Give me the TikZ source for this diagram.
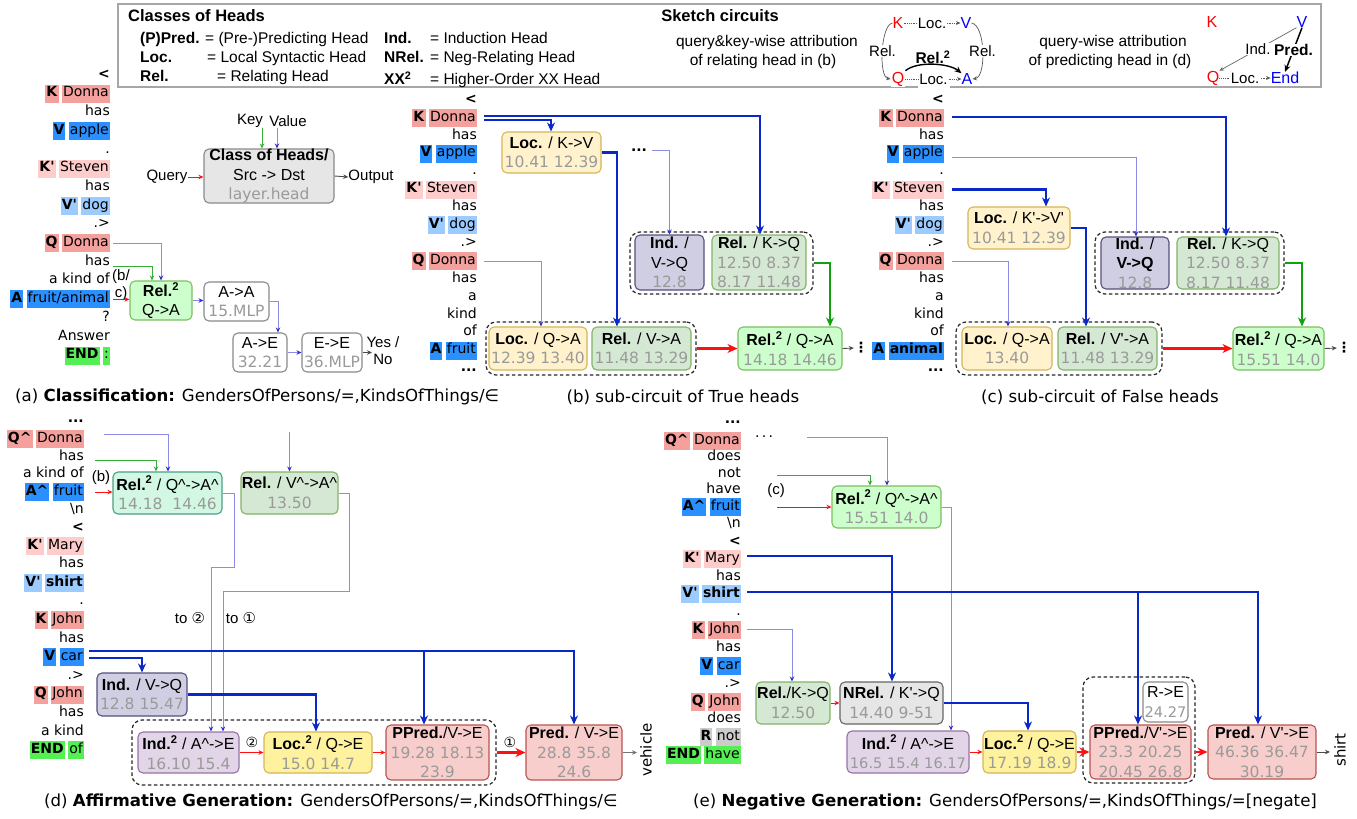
\documentclass[tikz,border=0pt]{standalone}
\usepackage{fontspec}
\setmainfont{Liberation Sans}
\newfontfamily\dejavu{DejaVu Sans}
\usetikzlibrary{arrows.meta}
\definecolor{kred}{HTML}{F4A09C}
\definecolor{kpink}{HTML}{FFCCCC}
\definecolor{vblue}{HTML}{2B90FF}
\definecolor{vlight}{HTML}{9CCBFF}
\definecolor{endg}{HTML}{55EE55}
\definecolor{rgray}{HTML}{CCCCCC}
\definecolor{numgray}{HTML}{9A9A9A}
\definecolor{locF}{HTML}{FFF2CC}\definecolor{locD}{HTML}{D6B656}
\definecolor{relF}{HTML}{D5E8D4}\definecolor{relD}{HTML}{82B366}
\definecolor{indF}{HTML}{D0CEE2}\definecolor{indD}{HTML}{56517E}
\definecolor{r2F}{HTML}{CCFFCC}\definecolor{r2D}{HTML}{7CC060}
\definecolor{mintF}{HTML}{D2F7E2}\definecolor{mintD}{HTML}{4D9E86}
\definecolor{i2F}{HTML}{E1D5E7}\definecolor{i2D}{HTML}{9673A6}
\definecolor{l2F}{HTML}{FFF29E}\definecolor{l2D}{HTML}{D6B656}
\definecolor{prF}{HTML}{F8CECC}\definecolor{prD}{HTML}{B85450}
\definecolor{gyF}{HTML}{E6E6E6}\definecolor{gyD}{HTML}{666666}
\definecolor{clsD}{HTML}{8A8A8A}
\definecolor{tblue}{HTML}{0A28C8}
\definecolor{lblue}{HTML}{8C8CE8}
\definecolor{ablue}{HTML}{3030D0}
\definecolor{tgreen}{HTML}{10A010}
\definecolor{tred}{HTML}{FF1010}
\newcommand{\tokfont}{\dejavu\fontsize{14}{16}\selectfont}
\newcommand{\boxfont}{\fontsize{16}{19.5}\selectfont}
\newcommand{\labfont}{\fontsize{15}{17}\selectfont}
\newcommand{\legfont}{\fontsize{15.5}{18}\selectfont}
\newcommand{\capf}{\dejavu\fontsize{16.6}{19}\selectfont}
\newcommand{\ap}{\textquotesingle}
\newcommand{\hc}{\textasciicircum}
\newcommand{\hl}[2]{{\setlength{\fboxsep}{1pt}\colorbox{#1}{\strut#2}}}
\newcommand{\tk}[3]{\hl{#1}{\textbf{#2}}\hspace{3.5pt}\hl{#1}{#3}}
\newcommand{\ptk}[1]{\strut#1}
\newcommand{\nm}[1]{{\dejavu\fontsize{15.5}{19.5}\selectfont\color{numgray}#1}}
\newcommand{\nms}[1]{{\dejavu\fontsize{14.6}{19.5}\selectfont\color{numgray}#1}}
\newcommand{\sq}{\textsuperscript{2}}
\tikzset{
 tok/.style={anchor=east,inner sep=0pt,font=\tokfont},
 hb/.style={draw,rounded corners=5pt,line width=1.1pt,align=center,inner sep=0pt,font=\boxfont},
 grp/.style={draw=black!85,dash pattern=on 3.5pt off 2.5pt,rounded corners=10pt,line width=1.2pt,inner sep=0pt},
 thickb/.style={draw=tblue,line width=2.2pt,-{Stealth[length=9pt,width=8pt]}},
 thinb/.style={draw=lblue,line width=1pt,-{Stealth[length=5pt,width=4.5pt,color=ablue]}},
 thickg/.style={draw=tgreen,line width=2.2pt,-{Stealth[length=9pt,width=8pt]}},
 thing/.style={draw=tgreen!85,line width=0.9pt,-{Stealth[length=5pt,width=4.5pt]}},
 thickr/.style={draw=tred,line width=2.4pt,-{Stealth[length=10pt,width=9pt]}},
 thinr/.style={draw=tred,line width=0.9pt,-{Stealth[length=5pt,width=4.5pt]}},
 thinblk/.style={draw=black!70,line width=0.9pt,-{Stealth[length=5pt,width=4.5pt]}},
 lab/.style={inner sep=0pt,font=\labfont,align=center},
 leg/.style={inner sep=0pt,font=\legfont,anchor=base west},
 capt/.style={inner sep=0pt,font=\capf},
 skd/.style={draw=black!65,densely dotted,line width=0.8pt,-{Stealth[length=4.5pt,width=4pt]}},
 skl/.style={fill=white,inner sep=0.6pt,font=\labfont},
}
\begin{document}
\begin{tikzpicture}[x=1pt,y=-1pt]
\useasboundingbox (0,0) rectangle (1357,819);
\fill[white] (0,0) rectangle (1357,819);
% ---------------- legend ----------------
\draw[draw=black!35,line width=1.2pt] (918,87) -- (118,87) -- (118,4) -- (1321,4) -- (1321,87) -- (950,87);
\node[leg,font=\fontsize{16.5}{19}\selectfont\bfseries] (lgT) at (128,21) {Classes of Heads};
\node[leg] (lg1a) at (140,43.5) {\textbf{(P)Pred.}};
\node[leg] (lg1b) at (205,43.5) {= (Pre-)Predicting Head};
\node[leg] (lg1c) at (384,43.5) {\textbf{Ind.}};
\node[leg] (lg1d) at (430,43.5) {= Induction Head};
\node[leg] (lg2a) at (140,62.5) {\textbf{Loc.}};
\node[leg] (lg2b) at (207,62.5) {= Local Syntactic Head};
\node[leg] (lg2c) at (384,62.5) {\textbf{NRel.}};
\node[leg] (lg2d) at (430,62.5) {= Neg-Relating Head};
\node[leg] (lg3a) at (140,81.5) {\textbf{Rel.}};
\node[leg] (lg3b) at (217,81.5) {= Relating Head};
\node[leg] (lg3c) at (384,84.5) {\textbf{XX\textsuperscript{2}}};
\node[leg] (lg3d) at (430,84.5) {= Higher-Order XX Head};
\node[leg,font=\fontsize{16.5}{19}\selectfont\bfseries,anchor=base] (skT) at (720,21) {Sketch circuits};
\node[leg,anchor=base] (sk1a) at (767,46) {query\&key-wise attribution};
\node[leg,anchor=base] (sk1b) at (763,65) {of relating head in (b)};
\node[leg,anchor=base] (sk2a) at (1113,46) {query-wise attribution};
\node[leg,anchor=base] (sk2b) at (1110,65) {of predicting head in (d)};
% sketch 1
\node[lab,text=red,font=\fontsize{16}{18}\selectfont] (sK) at (898,23) {K};
\node[lab,text=blue,font=\fontsize{16}{18}\selectfont] (sV) at (966,23) {V};
\node[lab,text=red,font=\fontsize{16}{18}\selectfont,fill=white,inner sep=1pt] (sQ) at (898,79) {Q};
\node[lab,text=blue,font=\fontsize{16}{18}\selectfont] (sA) at (967,79) {A};
\draw[skd] (sK.east) -- node[skl]{Loc.} (sV.west);
\draw[skd] (sQ.east) -- node[skl,inner ysep=2pt]{Loc.} (sA.west);
\draw[draw=black!65,line width=0.7pt,-{Stealth[length=4.5pt,width=4pt]}] (sK.west) .. controls +(-12,2) and +(-12,-2) .. node[skl]{Rel.} (sQ.west);
\draw[draw=black!65,line width=0.7pt,-{Stealth[length=4.5pt,width=4pt]}] (sV.east) .. controls +(14,2) and +(14,-2) .. node[skl]{Rel.} (sA.east);
\draw[line width=1.4pt,-{Stealth[length=7pt,width=6pt]}] (sQ.north east) .. controls +(12,-10) and +(-12,-10) .. (sA.north west);
\node[lab,font=\fontsize{15.5}{18}\selectfont\bfseries] (sR2) at (933,57) {Rel.\sq};
% sketch 2
\node[lab,text=red,font=\fontsize{16}{18}\selectfont] (tK) at (1212,22) {K};
\node[lab,text=blue,font=\fontsize{16}{18}\selectfont] (tV) at (1302,22) {V};
\node[lab,text=red,font=\fontsize{16}{18}\selectfont] (tQ) at (1213,78) {Q};
\node[lab,text=blue,font=\fontsize{16}{18}\selectfont] (tE) at (1285,78) {End};
\draw[skd] (tQ.east) -- node[skl]{Loc.} (tE.west);
\draw[draw=black!60,line width=0.7pt,-{Stealth[length=4.5pt,width=4pt]}] (tV.south west) -- node[skl]{Ind.} (tQ.north east);
\draw[line width=1.5pt,-{Stealth[length=7pt,width=6pt]}] (tV.south) -- node[skl,font=\fontsize{15.5}{18}\selectfont\bfseries]{Pred.} (tE.north);
% ---------------- panel (a) ----------------
\node[tok] (a0) at (110,75) {\ptk{\textbf{<}}};
\node[tok] (a1) at (110,93.7) {\tk{kred}{K}{Donna}};
\node[tok] (a2) at (110,112.4) {\ptk{has}};
\node[tok] (a3) at (110,131.1) {\tk{vblue}{V}{apple}};
\node[tok] (a4) at (110,149.8) {\ptk{.}};
\node[tok] (a5) at (110,168.5) {\tk{kpink}{K\ap}{Steven}};
\node[tok] (a6) at (110,187.2) {\ptk{has}};
\node[tok] (a7) at (110,205.9) {\tk{vlight}{V\ap}{dog}};
\node[tok] (a8) at (110,224.6) {\ptk{.>}};
\node[tok] (a9) at (110,243.3) {\tk{kred}{Q}{Donna}};
\node[tok] (a10) at (110,262) {\ptk{has}};
\node[tok] (a11) at (110,280.7) {\ptk{a kind of}};
\node[tok] (a12) at (110,299.4) {\tk{vblue}{A}{fruit/animal}};
\node[tok] (a13) at (110,318.1) {\ptk{?}};
\node[tok] (a14) at (110,336.8) {\ptk{Answer}};
\node[tok] (a15) at (110,355.5) {\tk{endg}{END}{:}};
\node[hb,fill=gyF,draw=clsD,minimum width=130pt,minimum height=54pt] (cls) at (269,176) {\textbf{Class of Heads/}\\Src -> Dst\\\nm{layer.head}};
\node[lab] (key) at (250,121) {Key};
\node[lab] (value) at (288,121) {Value};
\node[lab] (query) at (167,177) {Query};
\node[lab] (output) at (371,177) {Output};
\node[hb,fill=r2F,draw=r2D,minimum width=62pt,minimum height=39pt] (relA) at (161,300.5) {\textbf{Rel.\sq}\\Q->A};
\node[hb,fill=white,draw=clsD,minimum width=65pt,minimum height=39pt] (aa) at (236.5,301.5) {A->A\\\nm{15.MLP}};
\node[hb,fill=white,draw=clsD,minimum width=54pt,minimum height=39pt] (ae) at (260,352.5) {A->E\\\nm{32.21}};
\node[hb,fill=white,draw=clsD,minimum width=60pt,minimum height=39pt] (ee) at (332,352.5) {E->E\\\nm{36.MLP}};
\node[lab] (bc) at (121,285.5) {(b/\\c)};
\node[lab] (yesno) at (383,350.5) {Yes /\\No};
\coordinate (yn) at (372,352.5);
\draw[thinr] (query.east) -- (cls.west |- query.east);
\draw[thinblk] (cls.east) -- (output.west);
\draw[thing] (262,0 |- key.south) -- (262,0 |- cls.north);
\draw[thinb] (277,0 |- key.south) -- (277,0 |- cls.north);
\draw[thinb] ([xshift=3pt]a9.east) -| (161,0 |- relA.north);
\draw[thing] ([xshift=3pt,yshift=-4pt]a10.east) -| (152,0 |- relA.north);
\draw[thinr] ([xshift=3pt]a12.east) -- (relA.west |- a12.east);
\draw[thinb] (relA.east) -- (aa.west |- relA.east);
\draw[thinb] (aa.east) -| (278,0 |- ae.north);
\draw[thinb] (ae.east) -- (ee.west |- ae.east);
\draw[thinblk] (ee.east) -- (yn);
\node[capt,anchor=west] (capa) at (15,397) {(a) \textbf{Classification:} GendersOfPersons/=,KindsOfThings/∈};
% ---------------- panel (b) ----------------
\node[tok] (b0) at (477,100) {\ptk{\textbf{<}}};
\node[tok] (b1) at (477,117.9) {\tk{kred}{K}{Donna}};
\node[tok] (b2) at (477,135.8) {\ptk{has}};
\node[tok] (b3) at (477,153.7) {\tk{vblue}{V}{apple}};
\node[tok] (b4) at (477,171.6) {\ptk{.}};
\node[tok] (b5) at (477,189.5) {\tk{kpink}{K\ap}{Steven}};
\node[tok] (b6) at (477,207.4) {\ptk{has}};
\node[tok] (b7) at (477,225.3) {\tk{vlight}{V\ap}{dog}};
\node[tok] (b8) at (477,243.2) {\ptk{.>}};
\node[tok] (b9) at (477,261.1) {\tk{kred}{Q}{Donna}};
\node[tok] (b10) at (477,279) {\ptk{has}};
\node[tok] (b11) at (477,296.9) {\ptk{a}};
\node[tok] (b12) at (477,314.8) {\ptk{kind}};
\node[tok] (b13) at (477,332.7) {\ptk{of}};
\node[tok] (b14) at (477,350.6) {\tk{vblue}{A}{fruit}};
\node[tok] (b15) at (477,368.5) {\ptk{\textbf{...}}};
\node[grp,minimum width=183pt,minimum height=62pt] (bG1) at (721.5,263) {};
\node[grp,minimum width=210pt,minimum height=53pt] (bG2) at (591,348.5) {};
\node[hb,fill=locF,draw=locD,minimum width=99pt,minimum height=41pt] (bLocKV) at (551.5,152.5) {\textbf{Loc.} / K->V\\\nm{10.41 12.39}};
\node[hb,fill=indF,draw=indD,minimum width=69pt,minimum height=55pt] (bInd) at (669.5,262.5) {\textbf{Ind.} /\\V->Q\\\nm{12.8}};
\node[hb,fill=relF,draw=relD,minimum width=94pt,minimum height=55pt] (bRelKQ) at (759,262.5) {\textbf{Rel.} / K->Q\\\nm{12.50 8.37}\\\nm{8.17 11.48}};
\node[hb,fill=locF,draw=locD,minimum width=98pt,minimum height=43pt] (bLocQA) at (538,348.5) {\textbf{Loc.} / Q->A\\\nm{12.39 13.40}};
\node[hb,fill=relF,draw=relD,minimum width=99pt,minimum height=43pt] (bRelVA) at (641.5,348.5) {\textbf{Rel.} / V->A\\\nm{11.48 13.29}};
\node[hb,fill=r2F,draw=r2D,minimum width=104pt,minimum height=43pt] (bRel2) at (790,348.5) {\textbf{Rel.\sq} / Q->A\\\nm{14.18 14.46}};
\node[inner sep=0pt,font=\tokfont\bfseries] (bDots) at (639,150) {...};
\node[inner sep=0pt,font=\tokfont\bfseries] (bEnd) at (861,348) {⋮};
\draw[thickb] ([xshift=7pt,yshift=2pt]b1.east) -| (760,0 |- bRelKQ.north);
\draw[thickb] ([xshift=7pt,yshift=-2pt]b1.east) -| (551,0 |- bLocKV.north);
\draw[thickb] (bLocKV.east) -| (617,0 |- bRelVA.north);
\draw[thinb] ([xshift=5pt]bDots.east) -| (bInd.north);
\draw[thinb] ([xshift=7pt]b9.east) -| (541,0 |- bLocQA.north);
\draw[thickr] (bG2.east) -- (bRel2.west);
\draw[thickg] (bG1.east) -| (830,0 |- bRel2.north);
\draw[thinblk] (bRel2.east) -- (bEnd.west);
\node[capt] (capb) at (683,397) {(b) sub-circuit of True heads};
% ---------------- panel (c) ----------------
\node[tok] (c0) at (944,100) {\ptk{\textbf{<}}};
\node[tok] (c1) at (944,117.9) {\tk{kred}{K}{Donna}};
\node[tok] (c2) at (944,135.8) {\ptk{has}};
\node[tok] (c3) at (944,153.7) {\tk{vblue}{V}{apple}};
\node[tok] (c4) at (944,171.6) {\ptk{.}};
\node[tok] (c5) at (944,189.5) {\tk{kpink}{K\ap}{Steven}};
\node[tok] (c6) at (944,207.4) {\ptk{has}};
\node[tok] (c7) at (944,225.3) {\tk{vlight}{V\ap}{dog}};
\node[tok] (c8) at (944,243.2) {\ptk{.>}};
\node[tok] (c9) at (944,261.1) {\tk{kred}{Q}{Donna}};
\node[tok] (c10) at (944,279) {\ptk{has}};
\node[tok] (c11) at (944,296.9) {\ptk{a}};
\node[tok] (c12) at (944,314.8) {\ptk{kind}};
\node[tok] (c13) at (944,332.7) {\ptk{of}};
\node[tok] (c14) at (944,350.6) {\tk{vblue}{A}{\textbf{animal}}};
\node[tok] (c15) at (944,368.5) {\ptk{\textbf{...}}};
\node[grp,minimum width=189pt,minimum height=62pt] (cG1) at (1189.5,263) {};
\node[grp,minimum width=206pt,minimum height=53pt] (cG2) at (1059,348.5) {};
\node[hb,fill=locF,draw=locD,minimum width=102pt,minimum height=42pt] (cLoc) at (1019,228) {\textbf{Loc.} / K\ap->V\ap\\\nm{10.41 12.39}};
\node[hb,fill=indF,draw=indD,minimum width=68pt,minimum height=52pt] (cInd) at (1135,263) {\textbf{Ind.} /\\\textbf{V->Q}\\\nm{12.8}};
\node[hb,fill=relF,draw=relD,minimum width=102pt,minimum height=52pt] (cRelKQ) at (1228,263) {\textbf{Rel.} / K->Q\\\nm{12.50 8.37}\\\nm{8.17 11.48}};
\node[hb,fill=locF,draw=locD,minimum width=90pt,minimum height=43pt] (cLocQA) at (1007,348.5) {\textbf{Loc.} / Q->A\\\nm{13.40}};
\node[hb,fill=relF,draw=relD,minimum width=99pt,minimum height=43pt] (cRelVA) at (1107.5,348.5) {\textbf{Rel.} / V\ap->A\\\nm{11.48 13.29}};
\node[hb,fill=r2F,draw=r2D,minimum width=91pt,minimum height=43pt] (cRel2) at (1278.5,348.5) {\textbf{Rel.\sq} / Q->A\\\nm{15.51 14.0}};
\node[inner sep=0pt,font=\tokfont\bfseries] (cEnd) at (1344,348) {⋮};
\draw[thickb] ([xshift=8pt,yshift=1pt]c1.east) -| (1226,0 |- cRelKQ.north);
\draw[thinb] ([xshift=8pt,yshift=-4pt]c3.east) -| (1136,0 |- cInd.north);
\draw[thickb] ([xshift=8pt]c5.east) -| (1046,0 |- cLoc.north);
\draw[thickb] (cLoc.east) -| (1086,0 |- cRelVA.north);
\draw[thinb] ([xshift=8pt]c9.east) -| (1008,0 |- cLocQA.north);
\draw[thickg] (cG1.east) -| (1302,0 |- cRel2.north);
\draw[thickr] (cG2.east) -- (cRel2.west);
\draw[thinblk] (cRel2.east) -- (cEnd.west);
\node[capt] (capc) at (1100,397) {(c) sub-circuit of False heads};
% ---------------- panel (d) ----------------
\node[tok] (d0) at (84,419) {\ptk{\textbf{...}}};
\node[tok] (d1) at (84,439) {\tk{kred}{Q\hc}{Donna}};
\node[tok] (d2) at (84,457) {\ptk{has}};
\node[tok] (d3) at (84,474) {\ptk{a kind of}};
\node[tok] (d4) at (84,492) {\tk{vblue}{A\hc}{fruit}};
\node[tok] (d5) at (84,510) {\ptk{\textbackslash n}};
\node[tok] (d6) at (84,528) {\ptk{\textbf{<}}};
\node[tok] (d7) at (84,546) {\tk{kpink}{K\ap}{Mary}};
\node[tok] (d8) at (84,564.5) {\ptk{has}};
\node[tok] (d9) at (84,583) {\tk{vlight}{V\ap}{\textbf{shirt}}};
\node[tok] (d10) at (84,601) {\ptk{.}};
\node[tok] (d11) at (84,620) {\tk{kred}{K}{John}};
\node[tok] (d12) at (84,639) {\ptk{has}};
\node[tok] (d13) at (84,657) {\tk{vblue}{V}{car}};
\node[tok] (d14) at (84,676) {\ptk{.>}};
\node[tok] (d15) at (84,694.5) {\tk{kred}{Q}{John}};
\node[tok] (d16) at (84,713) {\ptk{has}};
\node[tok] (d17) at (84,732) {\ptk{a kind}};
\node[tok] (d18) at (84,750) {\tk{endg}{END}{of}};
\node[grp,minimum width=364pt,minimum height=65pt] (dG) at (314,752.5) {};
\node[hb,fill=mintF,draw=mintD,minimum width=109pt,minimum height=42pt] (dRel2) at (167.5,493) {\textbf{Rel.\sq} / Q\hc->A\hc\\\nm{14.18\ \ 14.46}};
\node[hb,fill=relF,draw=relD,minimum width=97pt,minimum height=42pt] (dRelV) at (289.5,493) {\textbf{Rel.} / V\hc->A\hc\\\nm{13.50}};
\node[hb,fill=indF,draw=indD,minimum width=90pt,minimum height=43pt] (dInd) at (142,694.5) {\textbf{Ind.} / V->Q\\\nm{12.8 15.47}};
\node[hb,fill=i2F,draw=i2D,minimum width=101pt,minimum height=41pt] (dInd2) at (188.5,752.5) {\textbf{Ind.\sq} / A\hc->E\\\nm{16.10 15.4}};
\node[hb,fill=l2F,draw=l2D,minimum width=108pt,minimum height=41pt] (dLoc2) at (318,752.5) {\textbf{Loc.\sq} / Q->E\\\nm{15.0 14.7}};
\node[hb,fill=prF,draw=prD,minimum width=103pt,minimum height=55pt] (dPP) at (437.5,752.5) {\textbf{PPred.}/V->E\\\nm{19.28 18.13}\\\nm{23.9}};
\node[hb,fill=prF,draw=prD,minimum width=96pt,minimum height=55pt] (dP) at (574,752.5) {\textbf{Pred.} / V->E\\\nm{28.8 35.8}\\\nm{24.6}};
\node[lab] (dbl) at (101,478) {(b)};
\node[lab,font=\dejavu\fontsize{14}{16}\selectfont] (dc2) at (252,742) {②};
\node[lab,font=\dejavu\fontsize{14}{16}\selectfont] (dc1) at (510,742) {①};
\node[lab] (dto2) at (190,618) {to {\dejavu ②}};
\node[lab] (dto1) at (241,618) {to {\dejavu ①}};
\node[lab,font=\dejavu\fontsize{15}{17}\selectfont,rotate=90] (dveh) at (646,750) {vehicle};
\coordinate (dTop) at (289.5,432);
\coordinate (dBr) at (424,651);
\coordinate (dOut) at (637,752.5);
\draw[thinb] ([xshift=20pt,yshift=5pt]d1.east) -| (168,0 |- dRel2.north);
\draw[thing] ([xshift=11pt,yshift=-3pt]d2.east) -| (156,0 |- dRel2.north);
\draw[thinr] ([xshift=11pt]d4.east) -- (dRel2.west |- d4.east);
\draw[thinb] (dTop) -- (dRelV.north);
\draw[thinb] (dRel2.east) -| (234,567) -| (211,0 |- dInd2.north);
\draw[thinb] (dRelV.east) -| (349,591) -| (223,0 |- dInd2.north);
\draw[thickb] ([xshift=5pt,yshift=-1pt]d13.east) -| (dInd.north);
\draw[thickb] ([xshift=5pt,yshift=6pt]d13.east) -| (574,0 |- dP.north);
\draw[thickb] (dBr) -- (dBr |- dPP.north);
\draw[thickb] (dInd.east) -| (316,0 |- dLoc2.north);
\draw[thinr] (dInd2.east) -- (dLoc2.west);
\draw[thinr] (dLoc2.east) -- (dPP.west);
\draw[thickr] (dG.east) -- (dP.west);
\draw[thinblk,draw=black!55] (dP.east) -- (dOut);
\node[capt,anchor=west] (capd) at (44,802) {(d) \textbf{Affirmative Generation:} GendersOfPersons/=,KindsOfThings/∈};
% ---------------- panel (e) ----------------
\node[tok] (e0) at (741,420) {\ptk{\textbf{...}}};
\node[tok] (e1) at (741,441) {\tk{kred}{Q\hc}{Donna}};
\node[tok] (e2) at (741,457.5) {\ptk{does}};
\node[tok] (e3) at (741,474) {\ptk{not}};
\node[tok] (e4) at (741,490.5) {\ptk{have}};
\node[tok] (e5) at (741,507) {\tk{vblue}{A\hc}{fruit}};
\node[tok] (e6) at (741,524) {\ptk{\textbackslash n}};
\node[tok] (e7) at (741,542) {\ptk{\textbf{<}}};
\node[tok] (e8) at (741,559) {\tk{kpink}{K\ap}{Mary}};
\node[tok] (e9) at (741,577) {\ptk{has}};
\node[tok] (e10) at (741,594) {\tk{vlight}{V\ap}{\textbf{shirt}}};
\node[tok] (e11) at (741,612) {\ptk{.}};
\node[tok] (e12) at (741,630) {\tk{kred}{K}{John}};
\node[tok] (e13) at (741,648) {\ptk{has}};
\node[tok] (e14) at (741,666) {\tk{vblue}{V}{car}};
\node[tok] (e15) at (741,684) {\ptk{.>}};
\node[tok] (e16) at (741,702) {\tk{kred}{Q}{John}};
\node[tok] (e17) at (741,719) {\ptk{does}};
\node[tok] (e18) at (741,737) {\tk{rgray}{R}{not}};
\node[tok] (e19) at (741,755) {\tk{endg}{END}{have}};
\node[inner sep=0pt,font=\tokfont] (eDots) at (764,439) {·\,·\,·};
\node[grp,minimum width=112pt,minimum height=106pt] (eG) at (1139,730) {};
\node[hb,fill=r2F,draw=r2D,minimum width=109pt,minimum height=42pt] (eRel2) at (886.5,507) {\textbf{Rel.\sq} / Q\hc->A\hc\\\nm{15.51 14.0}};
\node[hb,fill=relF,draw=relD,minimum width=74pt,minimum height=42pt] (eRel) at (793,703) {\textbf{Rel.}/K->Q\\\nm{12.50}};
\node[hb,fill=gyF,draw=gyD,minimum width=103pt,minimum height=42pt] (eNRel) at (891.5,703) {\textbf{NRel.} / K\ap->Q\\\nm{14.40 9-51}};
\node[hb,fill=i2F,draw=i2D,minimum width=122pt,minimum height=42pt] (eInd2) at (908,752) {\textbf{Ind.\sq} / A\hc->E\\\nms{16.5 15.4 16.17}};
\node[hb,fill=l2F,draw=l2D,minimum width=93pt,minimum height=42pt] (eLoc2) at (1029.5,752) {\textbf{Loc.\sq} / Q->E\\\nm{17.19 18.9}};
\node[hb,fill=white,draw=clsD,minimum width=45pt,minimum height=40pt] (eRE) at (1165.5,702) {R->E\\\nms{24.27}};
\node[hb,fill=prF,draw=prD,minimum width=101pt,minimum height=54pt] (ePP) at (1140.5,752) {\textbf{PPred.}/V\ap->E\\\nm{23.3 20.25}\\\nm{20.45 26.8}};
\node[hb,fill=prF,draw=prD,minimum width=108pt,minimum height=54pt] (eP) at (1262,752) {\textbf{Pred.} / V\ap->E\\\nm{46.36 36.47}\\\nm{30.19}};
\node[lab] (ecl) at (776,491) {(c)};
\node[lab,font=\dejavu\fontsize{15}{17}\selectfont,rotate=90] (eshirt) at (1340,750) {shirt};
\coordinate (eBr) at (1138,592);
\coordinate (eOut) at (1330,752);
\draw[thinb] ([xshift=34pt,yshift=2pt]eDots.east) -| (887,0 |- eRel2.north);
\draw[thing] ([xshift=36pt,yshift=-1pt]e3.east) -| (870,0 |- eRel2.north);
\draw[thinr] ([xshift=36pt]e5.east) -- (eRel2.west |- e5.east);
\draw[thinb] (eRel2.east) -| (951,0 |- eInd2.north);
\draw[thickb] ([xshift=6pt,yshift=3pt]e8.east) -| (892,0 |- eNRel.north);
\draw[thickb] ([xshift=6pt,yshift=2pt]e10.east) -| (1258,0 |- eP.north);
\draw[thickb] (eBr) -- (eBr |- ePP.north);
\draw[thinb] ([xshift=6pt,yshift=1pt]e12.east) -| (792,0 |- eRel.north);
\draw[thinr] (eRel.east) -- (eNRel.west);
\draw[thickb] (eNRel.east) -| (1028,0 |- eLoc2.north);
\draw[thinr] (eInd2.east) -- (eLoc2.west);
\draw[thickr] (eLoc2.east) -- (ePP.west);
\draw[thickr] (eG.east |- eP.west) -- (eP.west);
\draw[thinblk] (eP.east) -- (eOut);
\node[capt,anchor=west] (cape) at (693,802) {(e) \textbf{Negative Generation:} GendersOfPersons/=,KindsOfThings/=[negate]};
\end{tikzpicture}
\end{document}
